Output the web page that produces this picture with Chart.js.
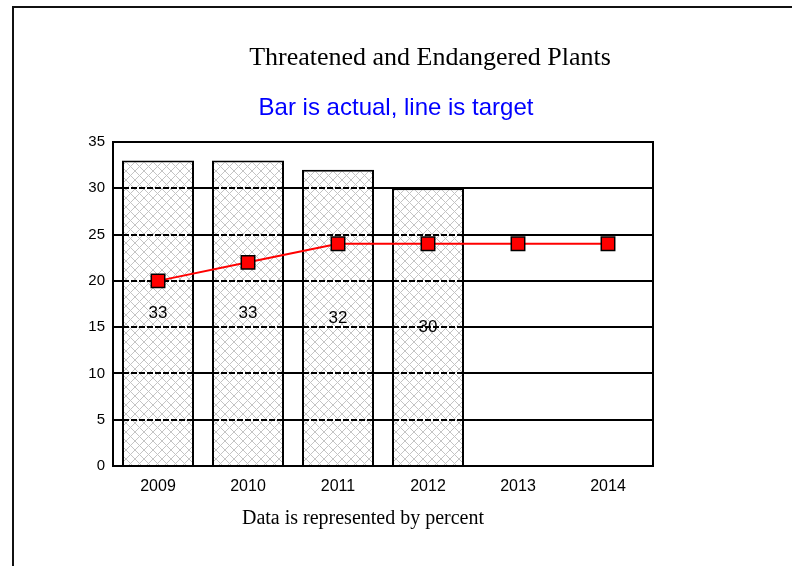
<!DOCTYPE html>
<html><head><meta charset="utf-8">
<script src="https://cdn.jsdelivr.net/npm/chart.js@4.4.0/dist/chart.umd.min.js"></script>
<style>
html,body{margin:0;padding:0;background:#fff;overflow:hidden;width:792px;height:566px;}
#frame{position:absolute;left:12px;top:6px;width:900px;height:700px;border-left:2px solid #111;border-top:2px solid #111;box-sizing:border-box;}
.t{position:absolute;transform:translate(-50%,-50%);white-space:nowrap;}
#title{left:430px;top:57px;font-family:"Liberation Serif","Times New Roman",serif;font-size:26px;color:#000;}
#sub{left:396px;top:107px;font-family:"Liberation Sans",Arial,sans-serif;font-size:24px;color:#0000ff;}
#foot{left:363px;top:517px;font-family:"Liberation Serif","Times New Roman",serif;font-size:20px;color:#000;}
#wrap{position:absolute;left:0;top:0;width:792px;height:566px;}
</style></head>
<body>
<div id="frame"></div>
<div id="wrap"><canvas id="c" width="792" height="566"></canvas></div>
<div class="t" id="title">Threatened and Endangered Plants</div>
<div class="t" id="sub">Bar is actual, line is target</div>
<div class="t" id="foot">Data is represented by percent</div>
<script>
const years = ["2009","2010","2011","2012","2013","2014"];
const actual = [33, 33, 32, 30, null, null];
const target = [20, 22, 24, 24, 24, 24];
const yTicks = [0, 5, 10, 15, 20, 25, 30, 35];

function hatch(){
  const n = 9;
  const c = document.createElement('canvas');
  c.width = n; c.height = n;
  const x = c.getContext('2d');
  x.fillStyle = '#fff'; x.fillRect(0,0,n,n);
  x.strokeStyle = '#c4c4c4'; x.lineWidth = 1;
  x.beginPath();
  x.moveTo(0,0); x.lineTo(n,n);
  x.moveTo(n,0); x.lineTo(0,n);
  x.stroke();
  return x.createPattern(c,'repeat');
}

const overBars = {
  id:'overBars',
  afterDatasetDraw(chart, args){
    if (args.index !== 1) return;
    const ctx = chart.ctx, y = chart.scales.y;
    const meta = chart.getDatasetMeta(1);
    ctx.save();
    meta.data.forEach((bar, i) => {
      const v = actual[i];
      if (v == null) return;
      const half = bar.width/2;
      const x0 = bar.x - half + 1, x1 = bar.x + half - 1;
      yTicks.forEach(t => {
        if (t <= 0 || t >= v) return;
        const py = Math.round(y.getPixelForValue(t));
        ctx.lineWidth = 2;
        ctx.setLineDash([6,2]);
        ctx.strokeStyle = '#000';
        ctx.beginPath(); ctx.moveTo(x0, py); ctx.lineTo(x1, py); ctx.stroke();
      });
      ctx.setLineDash([]);
      ctx.fillStyle = '#000';
      ctx.font = '17px "Liberation Sans", Arial, sans-serif';
      ctx.textAlign = 'center'; ctx.textBaseline = 'middle';
      ctx.fillText(String(v), bar.x, y.getPixelForValue(v/2));
    });
    ctx.restore();
  },
  afterDraw(chart){
    const a = chart.chartArea, ctx = chart.ctx;
    ctx.save();
    ctx.strokeStyle = '#000'; ctx.lineWidth = 2;
    ctx.strokeRect(a.left, a.top, a.right - a.left, a.bottom - a.top);
    ctx.restore();
  }
};

new Chart(document.getElementById('c'), {
  data: {
    labels: years,
    datasets: [
      { type:'line', label:'Target', data: target, order:0,
        borderColor:'#ff0000', borderWidth:2, tension:0,
        pointStyle:'rect', pointRadius:9.5, pointHoverRadius:9.5,
        pointBackgroundColor:'#ff0000', pointBorderColor:'#000', pointBorderWidth:1.5 },
      { type:'bar', label:'Actual', data: actual, order:1,
        backgroundColor: hatch(), borderColor:'#000', borderWidth:2,
        barPercentage:0.8, categoryPercentage:1.0 }
    ]
  },
  options: {
    responsive:false, animation:false, devicePixelRatio:1,
    layout:{ padding:{ left:73, right:139, top:142, bottom:70 } },
    plugins:{ legend:{display:false}, tooltip:{enabled:false}, title:{display:false} },
    scales:{
      x:{
        grid:{ display:false, drawTicks:false },
        border:{ display:false },
        ticks:{ color:'#000', padding:11, font:{ family:'"Liberation Sans", Arial, sans-serif', size:16 } },
        afterFit(s){ s.height = 30; }
      },
      y:{
        min:0, max:35,
        grid:{ color:'#000', lineWidth:2, drawTicks:false },
        border:{ display:false },
        ticks:{ stepSize:5, color:'#000', padding:8, font:{ family:'"Liberation Sans", Arial, sans-serif', size:15 } },
        afterFit(s){ s.width = 40; }
      }
    }
  },
  plugins:[overBars]
});
</script>
</body></html>
